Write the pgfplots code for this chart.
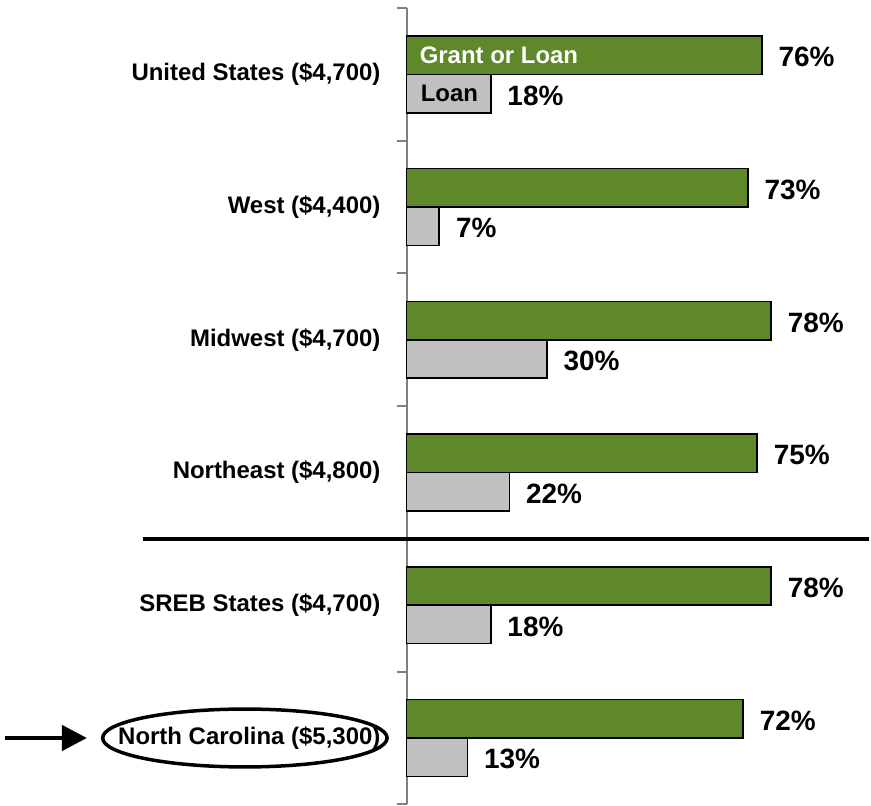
\documentclass[border=0pt]{standalone}
\usepackage{fontspec}
\setmainfont{Liberation Sans}
\usepackage{pgfplots}
\pgfplotsset{compat=1.18}
\usetikzlibrary{arrows.meta}
\definecolor{grantgreen}{RGB}{94,136,41}
\definecolor{loangray}{RGB}{192,192,192}
\newcommand{\lab}{\fontsize{24}{28}\selectfont\bfseries}
\newcommand{\pct}{\fontsize{28}{32}\selectfont\bfseries}
\begin{document}
\begin{tikzpicture}
\begin{axis}[
    xbar,
    scale only axis,
    width=463.6pt, height=798pt,
    xmin=0, xmax=99,
    ymin=-0.5, ymax=5.5,
    axis x line=none,
    axis y line=left,
    axis line style={-, draw=gray, line width=2pt},
    xtick=\empty,
    ytick={0,...,5},
    yticklabels={{North Carolina (\$5,300)}, {SREB States (\$4,700)}, {Northeast (\$4,800)},
                 {Midwest (\$4,700)}, {West (\$4,400)}, {United States (\$4,700)}},
    yticklabel style={font=\lab, anchor=east, inner sep=0pt, xshift=-26pt},
    minor ytick={-0.5,0.5,...,5.5},
    tick align=outside,
    major tick length=0pt,
    minor tick length=10pt,
    minor tick style={gray, line width=2pt},
    bar width=38.5pt,
    clip=false,
    /pgf/number format/assume math mode=true,
    nodes near coords={\pgfmathprintnumber{\pgfplotspointmeta}\%},
    point meta=x,
    every node near coord/.append style={font=\pct, anchor=west, inner sep=0pt, xshift=16pt, yshift=-2pt},
]
% Grant or Loan
\addplot[fill=grantgreen, draw=black, line width=1.6pt, bar shift=19.25pt]
    coordinates {(76,5) (73,4) (78,3) (75,2) (78,1) (72,0)};
% Loan
\addplot[fill=loangray, draw=black, line width=1.6pt, bar shift=-19.25pt]
    coordinates {(18,5) (7,4) (30,3) (22,2) (18,1) (13,0)};

% labels inside the top bars
\node[anchor=west, inner sep=0pt, font=\lab, text=white] at ([xshift=13pt, yshift=19.25pt]axis cs:0,5) {Grant or Loan};
\node[anchor=west, inner sep=0pt, font=\lab, text=black] at ([xshift=14pt, yshift=-19.25pt]axis cs:0,5) {Loan};

% separator between regions and states
\draw[black, line width=3.5pt] (axis cs:-56.5,1.5) -- (axis cs:99,1.5);

% highlight North Carolina
\draw[black, line width=3.5pt] (axis cs:-34.6,0) ellipse [x radius=142.5pt, y radius=29pt];
\draw[black, line width=4.5pt, -{Triangle[length=25pt, width=25pt]}] (axis cs:-85.9,0) -- (axis cs:-68.4,0);

% page extent
\path (axis cs:-87,-0.5) rectangle (axis cs:99,5.56);
\end{axis}
\end{tikzpicture}
\end{document}
